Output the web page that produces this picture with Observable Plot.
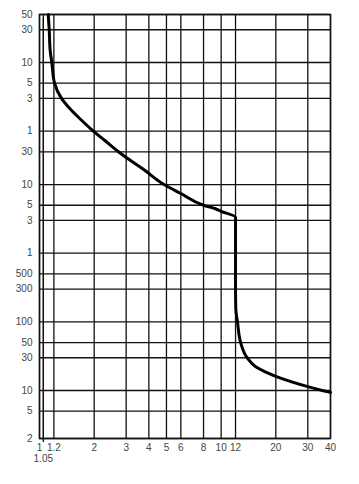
<!DOCTYPE html>
<html><head><meta charset="utf-8">
<script src="https://cdn.jsdelivr.net/npm/d3@7"></script>
<script src="https://cdn.jsdelivr.net/npm/@observablehq/plot@0.6"></script>
<style>body{margin:0;background:#fff}svg{font-family:"Liberation Sans",Arial,sans-serif}</style>
</head><body><div id="chart"></div>
<script>
// multiples of rated current
const xTicks = [1, 1.05, 1.2, 2, 3, 4, 5, 6, 8, 10, 12, 20, 30, 40];
const xTickLabels = ["1", "1.05", "1.2", "2", "3", "4", "5", "6", "8", "10", "12", "20", "30", "40"];
// trip time in seconds (minutes / seconds / milliseconds labels)
const yTicks = [3000, 1800, 600, 300, 180, 60, 30, 10, 5, 3, 1, 0.5, 0.3, 0.1, 0.05, 0.03, 0.01, 0.005, 0.002];
const yTickLabels = ["50", "30", "10", "5", "3", "1", "30", "10", "5", "3", "1", "500", "300", "100", "50", "30", "10", "5", "2"];
// trip curve
const curveX = [1.117, 1.131, 1.145, 1.169, 1.21, 1.322, 1.468, 1.709, 1.978, 2.29, 2.72, 3.81, 4.85, 6, 8, 9.3, 10, 12, 12, 12.05, 12.3, 12.8, 13.9, 15.5, 17.5, 20, 30, 36, 40];
const curveY = [3000, 1800, 896, 600, 300, 180, 128, 85.7, 60, 43.8, 30, 16, 10, 7.4, 5, 4.44, 4.08, 3.34, 0.3, 0.15, 0.1, 0.05, 0.03, 0.0222, 0.0187, 0.0161, 0.0114, 0.01, 0.0094];

const curve = curveX.map((x, i) => ({x, y: curveY[i]}));
const xMain = xTicks.map((t, i) => ({t, label: xTickLabels[i]})).filter(d => d.t !== 1.05);
const xLow = xTicks.map((t, i) => ({t, label: xTickLabels[i]})).filter(d => d.t === 1.05);
const yLabs = yTicks.map((t, i) => ({t, label: yTickLabels[i]}));
const gridColor = "#111";
const textColor = "#444";

const chart = Plot.plot({
  width: 359,
  height: 484,
  marginLeft: 39,
  marginRight: 29,
  marginTop: 14,
  marginBottom: 46,
  style: {fontFamily: "Liberation Sans, Arial, sans-serif", fontSize: "10px", background: "#fff"},
  x: {type: "log", domain: [1, 40], axis: null},
  y: {type: "log", domain: [0.002, 3000], axis: null},
  marks: [
    Plot.ruleX(xTicks, {stroke: gridColor, strokeWidth: 1.3}),
    Plot.ruleY(yTicks, {stroke: gridColor, strokeWidth: 1.3}),
    Plot.frame({stroke: gridColor, strokeWidth: 1.5}),
    Plot.tickX(xLow, {x: "t", frameAnchor: "bottom", stroke: gridColor, strokeWidth: 1.3, dy: 4}),
    Plot.text(xMain, {x: "t", text: "label", frameAnchor: "bottom", dy: 12, fill: textColor, fontSize: 10}),
    Plot.text(xLow, {x: "t", text: "label", frameAnchor: "bottom", dy: 23, fill: textColor, fontSize: 10}),
    Plot.text(yLabs, {y: "t", text: "label", frameAnchor: "left", textAnchor: "end", dx: -7, fill: textColor, fontSize: 10}),
    Plot.line(curve, {x: "x", y: "y", stroke: "#000", strokeWidth: 3, curve: "monotone-y"})
  ]
});
document.getElementById("chart").append(chart);
</script>
</body></html>
